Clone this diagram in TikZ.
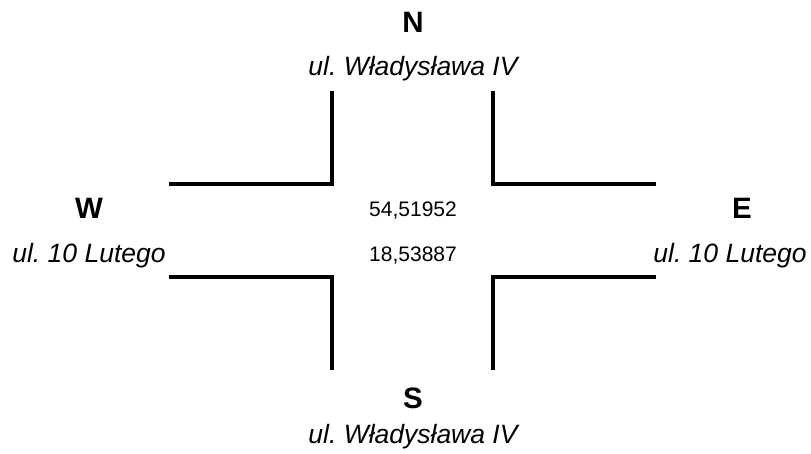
\documentclass[tikz,border=0pt]{standalone}
\usepackage{fontspec}
\setmainfont{Liberation Sans}
\begin{document}
\frenchspacing
\begin{tikzpicture}[x=1pt,y=-1pt,
  road/.style={line width=3.5pt, line join=miter, line cap=butt},
  dir/.style={font=\fontsize{29.5}{32}\selectfont\bfseries, anchor=base, inner sep=0pt},
  street/.style={font=\fontsize{26.5}{30}\selectfont\itshape, anchor=base, inner sep=0pt},
  coord/.style={font=\fontsize{21}{24}\selectfont, anchor=base, inner sep=0pt}]
\useasboundingbox (0,0) rectangle (811,453);
% corners
\coordinate (nwa) at (332,91);  \coordinate (nwc) at (332,184); \coordinate (nwb) at (169,184);
\coordinate (nea) at (493,91);  \coordinate (nec) at (493,184); \coordinate (neb) at (656,184);
\coordinate (swa) at (332,370); \coordinate (swc) at (332,277); \coordinate (swb) at (169,277);
\coordinate (sea) at (493,370); \coordinate (sec) at (493,277); \coordinate (seb) at (656,277);
\draw[road] (nwa) -- (nwc) -- (nwb);
\draw[road] (nea) -- (nec) -- (neb);
\draw[road] (swa) -- (swc) -- (swb);
\draw[road] (sea) -- (sec) -- (seb);
% labels
\node[dir] (n) at (413,32) {N};
\node[street] (ns) at (413,75) {ul.\ Władysława IV};
\node[dir] (s) at (413,408) {S};
\node[street] (ss) at (413,443) {ul.\ Władysława IV};
\node[dir] (w) at (89,218) {W};
\node[street] (ws) at (89,262) {ul.\ 10 Lutego};
\node[dir] (e) at (742,218) {E};
\node[street] (es) at (730,262) {ul.\ 10 Lutego};
\node[coord] (lat) at (413,216) {54,51952};
\node[coord] (lon) at (413,261) {18,53887};
\end{tikzpicture}
\end{document}
